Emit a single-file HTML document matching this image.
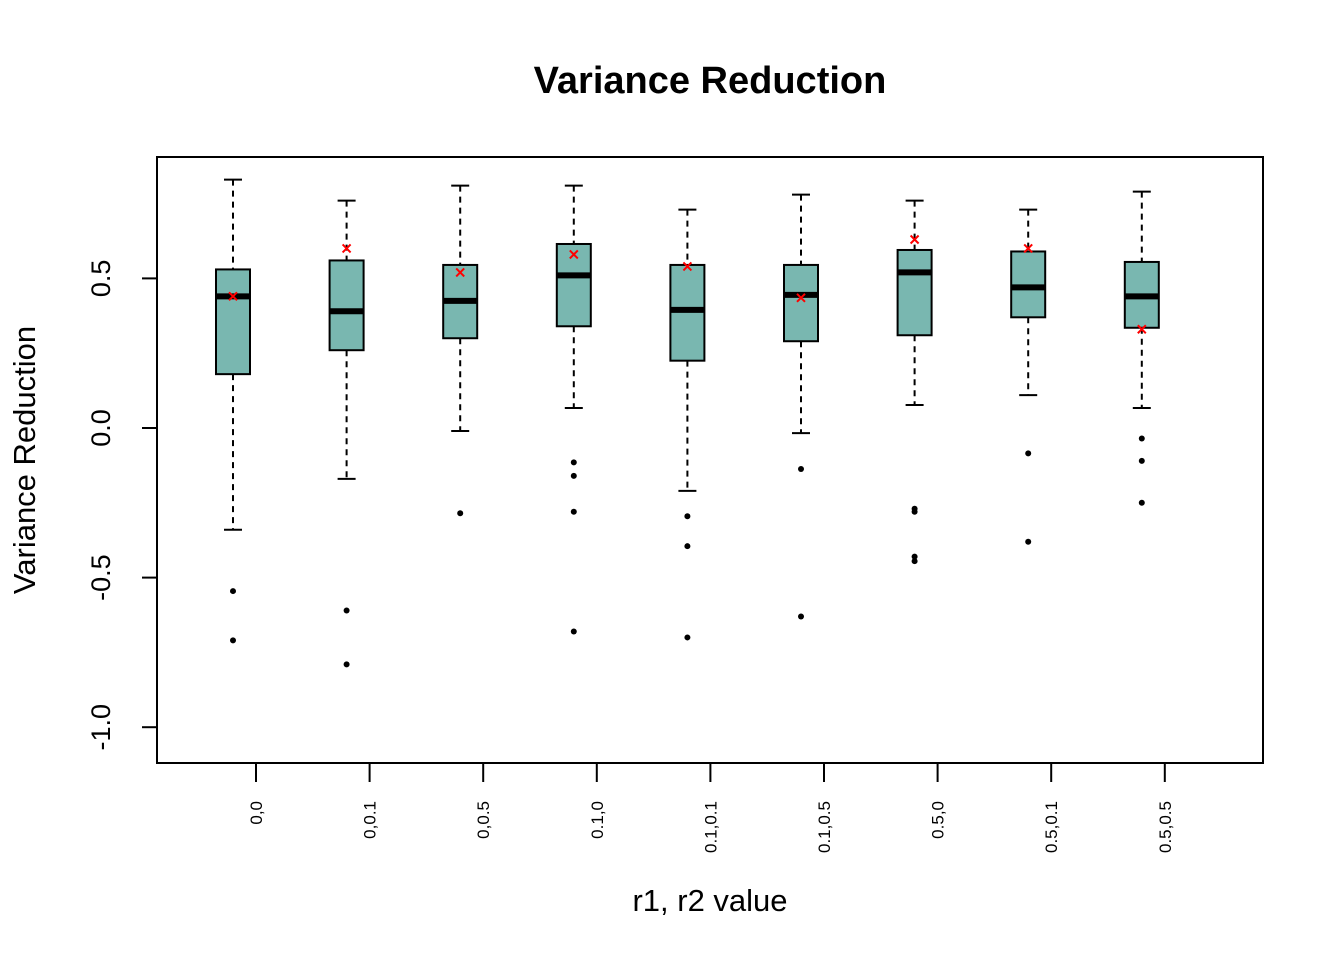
<!DOCTYPE html>
<html><head><meta charset="utf-8"><style>
html,body{margin:0;padding:0;background:#fff;}
svg{display:block;font-family:"Liberation Sans",Arial,sans-serif;}
</style></head><body>
<svg id="chart" width="1344" height="960" viewBox="0 0 1344 960">
<text x="710" y="93" text-anchor="middle" font-size="38" font-weight="bold">Variance Reduction</text>
<text x="710" y="911" text-anchor="middle" font-size="31">r1, r2 value</text>
<text transform="translate(35,460) rotate(-90)" text-anchor="middle" font-size="31">Variance Reduction</text>
<rect x="157" y="157" width="1106" height="606" fill="none" stroke="#000" stroke-width="2"/>
<g id="g"></g>
</svg>
<script>
const categories=["0,0","0,0.1","0,0.5","0.1,0","0.1,0.1","0.1,0.5","0.5,0","0.5,0.1","0.5,0.5"];
const whiskerHigh=[0.83,0.76,0.81,0.81,0.73,0.78,0.76,0.73,0.79];
const q3=[0.53,0.56,0.545,0.615,0.545,0.545,0.595,0.59,0.555];
const medians=[0.44,0.39,0.425,0.51,0.395,0.445,0.52,0.47,0.44];
const q1=[0.18,0.26,0.30,0.34,0.225,0.29,0.31,0.37,0.335];
const whiskerLow=[-0.34,-0.17,-0.01,0.067,-0.21,-0.017,0.077,0.11,0.067];
const means=[0.44,0.60,0.52,0.58,0.54,0.435,0.63,0.60,0.33];
const outliers=[[-0.545,-0.71],[-0.61,-0.79],[-0.285],[-0.115,-0.16,-0.28,-0.68],[-0.295,-0.395,-0.70],[-0.137,-0.63],[-0.27,-0.28,-0.43,-0.445],[-0.085,-0.38],[-0.035,-0.11,-0.25]];
const yTicks=[-1.0,-0.5,0.0,0.5];
const yTickLabels=["-1.0","-0.5","0.0","0.5"];

const NS="http://www.w3.org/2000/svg";
const g=document.getElementById('g');
function y(v){return 428-v*299.2;}
function xTick(i){return 256+i*113.6;}
function xBox(i){return xTick(i)-23;}
function el(t,a,p){const e=document.createElementNS(NS,t);for(const k in a)e.setAttribute(k,a[k]);(p||g).appendChild(e);return e;}

yTicks.forEach((v,i)=>{
  const l=el('line',{x1:157,x2:142,y1:y(v),y2:y(v),stroke:'#000','stroke-width':2});
  
  
  const t=el('text',{transform:`translate(110,${y(v)}) rotate(-90)`,'text-anchor':'middle','font-size':27});
  t.textContent=yTickLabels[i];
  
  
});
categories.forEach((c,i)=>{
  const xt=xTick(i),xc=xBox(i),w=34;
  const tk=el('line',{x1:xt,x2:xt,y1:763,y2:782,stroke:'#000','stroke-width':2});
  
  
  const tl=el('text',{transform:`translate(${xt+6},801) rotate(-90)`,'text-anchor':'end','font-size':17});
  tl.textContent=c;
  
  
  const wu=el('line',{x1:xc,x2:xc,y1:y(whiskerHigh[i]),y2:y(q3[i]),stroke:'#000','stroke-width':2,'stroke-dasharray':'6,5'});
  
  
  const wl=el('line',{x1:xc,x2:xc,y1:y(q1[i]),y2:y(whiskerLow[i]),stroke:'#000','stroke-width':2,'stroke-dasharray':'6,5'});
  
  
  [whiskerHigh[i],whiskerLow[i]].forEach(v=>{
    const cp=el('line',{x1:xc-9,x2:xc+9,y1:y(v),y2:y(v),stroke:'#000','stroke-width':2});
    
    
  });
  const b=el('rect',{x:xc-w/2,y:y(q3[i]),width:w,height:y(q1[i])-y(q3[i]),fill:'#79b7b0',stroke:'#000','stroke-width':2});
  
  
  const m=el('line',{x1:xc-w/2,x2:xc+w/2,y1:y(medians[i]),y2:y(medians[i]),stroke:'#000','stroke-width':6});
  
  
  outliers[i].forEach(v=>{
    const o=el('circle',{cx:xc,cy:y(v),r:3,fill:'#000'});
    
    
  });
  const my=y(means[i]);
  const mk=el('path',{d:`M${xc-4},${my-4}L${xc+4},${my+4}M${xc-4},${my+4}L${xc+4},${my-4}`,stroke:'#f00','stroke-width':2});
  
  
});
</script>
</body></html>
